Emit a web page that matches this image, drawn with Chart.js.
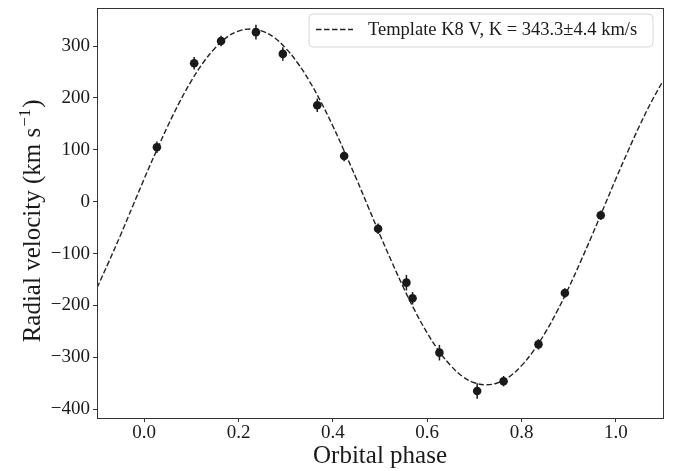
<!DOCTYPE html>
<html lang="en">
<head>
<meta charset="UTF-8">
<title>Radial velocity curve</title>
<script src="https://cdn.jsdelivr.net/npm/chart.js"></script>
<style>
  html, body { margin: 0; padding: 0; background: #fff; }
</style>
</head>
<body>
<canvas id="rvChart" width="678" height="471"></canvas>
<script>
// measured radial velocities (phase, km/s, 1-sigma error)
var phase    = [0.027, 0.106, 0.163, 0.237, 0.294, 0.367, 0.424, 0.496, 0.556, 0.569, 0.626, 0.706, 0.762, 0.836, 0.892, 0.968];
var velocity = [105, 267, 310, 327, 285, 186, 88, -52, -156, -186, -291, -365, -346, -275, -176, -26];
var velErr   = [11, 12, 10, 14, 13, 13, 10, 10, 15, 12, 15, 15, 10, 10, 9, 9];

// template fit
var curvePhase = [-0.1, -0.075, -0.05, -0.025, 0.0, 0.025, 0.05, 0.075, 0.1, 0.125, 0.15, 0.175,
                  0.2, 0.225, 0.25, 0.275, 0.3, 0.325, 0.35, 0.375, 0.4, 0.425, 0.45, 0.475,
                  0.5, 0.525, 0.55, 0.575, 0.6, 0.625, 0.65, 0.675, 0.7, 0.725, 0.75, 0.775,
                  0.8, 0.825, 0.85, 0.875, 0.9, 0.925, 0.95, 0.975, 1.0, 1.025, 1.05, 1.075, 1.1];
var curveVel = [-166, -116, -64, -10, 44, 96, 146, 192, 233, 268, 296, 317,
                329, 333, 329, 317, 296, 268, 233, 192, 146, 96, 44, -10,
                -64, -116, -166, -212, -253, -288, -316, -337, -349, -353, -349, -337,
                -316, -288, -253, -212, -166, -116, -64, -10, 44, 96, 146, 192, 233];

var xTicks = [0.0, 0.2, 0.4, 0.6, 0.8, 1.0];
var yTicks = [-400, -300, -200, -100, 0, 100, 200, 300];
var legendLabel = 'Template K8 V, K = 343.3\u00b14.4 km/s';

var serif = '"Liberation Serif", "DejaVu Serif", serif';
var ink = '#1a1a1a';

var points = phase.map(function (p, i) { return { x: p, y: velocity[i] }; });
var curve = curvePhase.map(function (p, i) { return { x: p, y: curveVel[i] }; });

// error bars, frame, y title and legend box
var extras = {
    id: 'extras',
    beforeDatasetsDraw: function (chart) {
        var ctx = chart.ctx, xs = chart.scales.x, ys = chart.scales.y;
        ctx.save();
        ctx.strokeStyle = ink;
        ctx.lineWidth = 1.5;
        for (var i = 0; i < phase.length; i++) {
            var px = xs.getPixelForValue(phase[i]);
            ctx.beginPath();
            ctx.moveTo(px, ys.getPixelForValue(velocity[i] - velErr[i]));
            ctx.lineTo(px, ys.getPixelForValue(velocity[i] + velErr[i]));
            ctx.stroke();
        }
        ctx.restore();
    },
    afterDraw: function (chart) {
        var ctx = chart.ctx, a = chart.chartArea;
        ctx.save();
        // frame
        ctx.strokeStyle = '#333';
        ctx.lineWidth = 1;
        ctx.strokeRect(Math.round(a.left) + 0.5, Math.round(a.top) + 0.5,
                       Math.round(a.right - a.left), Math.round(a.bottom - a.top));

        // y axis title with superscript
        ctx.fillStyle = ink;
        ctx.translate(40, (a.top + a.bottom) / 2 + 9);
        ctx.rotate(-Math.PI / 2);
        ctx.textBaseline = 'alphabetic';
        ctx.textAlign = 'left';
        var big = '25px ' + serif, small = '17px ' + serif;
        var t1 = 'Radial velocity (km s', t2 = '\u22121', t3 = ')';
        ctx.font = big;
        var w1 = ctx.measureText(t1).width, w3 = ctx.measureText(t3).width;
        ctx.font = small;
        var w2 = ctx.measureText(t2).width;
        var x0 = -(w1 + w2 + w3) / 2;
        ctx.font = big;
        ctx.fillText(t1, x0, 0);
        ctx.font = small;
        ctx.fillText(t2, x0 + w1 + 1, -10);
        ctx.font = big;
        ctx.fillText(t3, x0 + w1 + w2 + 2, 0);
        ctx.restore();

        // legend
        ctx.save();
        var bx = 309, by = 14, bw = 344, bh = 33, r = 4;
        ctx.beginPath();
        ctx.moveTo(bx + r, by);
        ctx.arcTo(bx + bw, by, bx + bw, by + bh, r);
        ctx.arcTo(bx + bw, by + bh, bx, by + bh, r);
        ctx.arcTo(bx, by + bh, bx, by, r);
        ctx.arcTo(bx, by, bx + bw, by, r);
        ctx.closePath();
        ctx.fillStyle = 'rgba(255,255,255,0.85)';
        ctx.fill();
        ctx.strokeStyle = '#d6d6d6';
        ctx.lineWidth = 1;
        ctx.stroke();
        ctx.strokeStyle = '#222';
        ctx.lineWidth = 1.4;
        ctx.setLineDash([5.5, 2.5]);
        ctx.beginPath();
        ctx.moveTo(316, 29.5);
        ctx.lineTo(353, 29.5);
        ctx.stroke();
        ctx.setLineDash([]);
        ctx.fillStyle = ink;
        ctx.font = '18.5px ' + serif;
        ctx.textBaseline = 'middle';
        ctx.fillText(legendLabel, 368, 30);
        ctx.restore();
    }
};

var ctx = document.getElementById('rvChart').getContext('2d');
var rvChart = new Chart(ctx, {
    type: 'scatter',
    data: {
        datasets: [{
            type: 'line',
            label: legendLabel,
            data: curve,
            borderColor: '#222',
            borderWidth: 1.4,
            borderDash: [5.5, 2.5],
            pointRadius: 0,
            tension: 0.4,
            fill: false,
            order: 2
        }, {
            label: 'data',
            data: points,
            pointRadius: 4.3,
            pointBackgroundColor: ink,
            pointBorderWidth: 0,
            order: 1
        }]
    },
    options: {
        responsive: false,
        animation: false,
        devicePixelRatio: 1,
        layout: { padding: { left: 0, right: 15, top: 5, bottom: 0 } },
        plugins: {
            legend: { display: false },
            tooltip: { enabled: false }
        },
        scales: {
            x: {
                type: 'linear',
                min: -0.1,
                max: 1.1,
                afterBuildTicks: function (s) { s.ticks = xTicks.map(function (v) { return { value: v }; }); },
                afterFit: function (s) { s.height = 53; },
                border: { display: false },
                grid: { display: true, drawOnChartArea: false, drawTicks: true, tickLength: 4, color: '#333' },
                ticks: {
                    color: ink,
                    padding: 0,
                    font: { family: serif, size: 19 },
                    callback: function (v) { return v.toFixed(1); }
                },
                title: {
                    display: true,
                    text: 'Orbital phase',
                    color: ink,
                    font: { family: serif, size: 25 },
                    padding: { top: 0, bottom: 0 }
                }
            },
            y: {
                type: 'linear',
                min: -417,
                max: 374,
                afterBuildTicks: function (s) { s.ticks = yTicks.map(function (v) { return { value: v }; }); },
                afterFit: function (s) { s.width = 97; },
                border: { display: false },
                grid: { display: true, drawOnChartArea: false, drawTicks: true, tickLength: 4, color: '#333' },
                ticks: {
                    color: ink,
                    padding: 3,
                    font: { family: serif, size: 19, lineHeight: 0.5 },
                    callback: function (v) { return v < 0 ? '\u2212' + Math.abs(v) : String(v); }
                }
            }
        }
    },
    plugins: [extras]
});
</script>
</body>
</html>
